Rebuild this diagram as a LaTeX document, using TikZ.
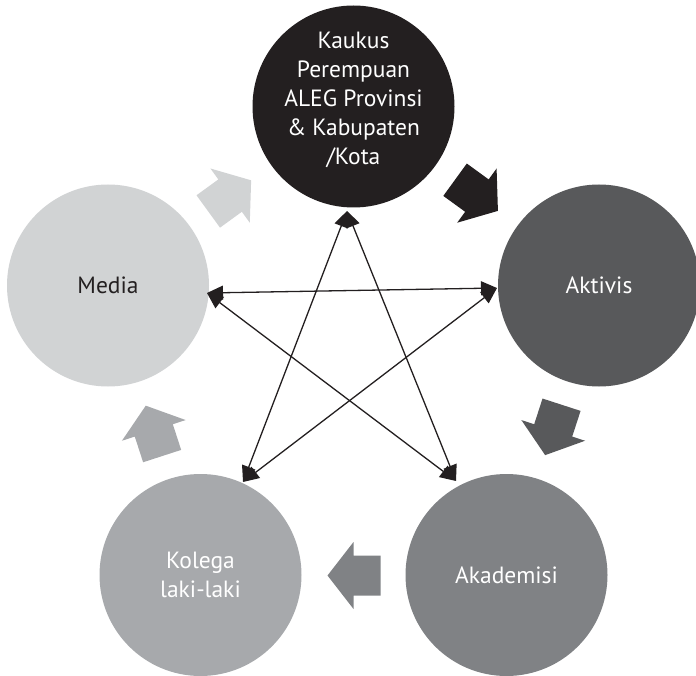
\documentclass[tikz,border=0pt]{standalone}
\usepackage{fontspec}
\setmainfont{PT Sans}
\usetikzlibrary{arrows.meta}
\definecolor{c1}{HTML}{231F20}
\definecolor{c2}{HTML}{58595B}
\definecolor{c3}{HTML}{808285}
\definecolor{c4}{HTML}{A7A9AC}
\definecolor{c5}{HTML}{D1D3D4}
\begin{document}
\begin{tikzpicture}[x=1pt,y=-1pt,
  circ/.style={circle, minimum size=202pt, inner sep=0pt, align=center,
    font=\fontsize{23.5}{29}\selectfont, text=white},
  lbl/.style={align=center, inner sep=0pt, font=\fontsize{23.5}{29}\selectfont, text=white},
  link/.style={line width=1.3pt, draw=c1,
    {Triangle[length=16pt,width=14pt]}-{Triangle[length=16pt,width=14pt]}},
  blockarrow/.pic={\path[pic actions] (-27,-20) -- (0,-20) -- (0,-33.5) -- (26,0)
    -- (0,33.5) -- (0,20) -- (-27,20) -- cycle;}
]
\useasboundingbox (0,0) rectangle (696,676);
\node[circ, fill=c1] (kaukus) at (353.5,106.5) {};
\node[lbl] (kaukustext) at (353.5,100) {Kaukus\\Perempuan\\ALEG Provinsi\\\& Kabupaten\\/Kota};
\node[circ, fill=c2] (aktivis) at (599,285.5) {Aktivis};
\node[circ, fill=c3] (akademisi) at (506.5,575) {Akademisi};
\node[circ, fill=c4] (kolega) at (200.5,575) {Kolega\\laki-laki};
\node[circ, fill=c5, text=c1] (media) at (108,285.5) {Media};
% block arrows around the cycle
\pic[fill=c1, rotate=-36] at (476.9,195.6) {blockarrow};
\pic[fill=c2, rotate=-108] at (553.2,430.4) {blockarrow};
\pic[fill=c3, rotate=180] at (353.5,575.5) {blockarrow};
\pic[fill=c4, rotate=108] at (153.8,430.4) {blockarrow};
\pic[fill=c5, rotate=36] at (230.1,195.6) {blockarrow};
% link end points
\coordinate (eT) at (347,211);
\coordinate (eM) at (207,293);
\coordinate (eA) at (497,288);
\coordinate (eK) at (243,482);
\coordinate (eD) at (456,481);
\draw[link] (eT) -- (eK);
\draw[link] (eT) -- (eD);
\draw[link] (eM) -- (eA);
\draw[link] (eM) -- (eD);
\draw[link] (eA) -- (eK);
\end{tikzpicture}
\end{document}
